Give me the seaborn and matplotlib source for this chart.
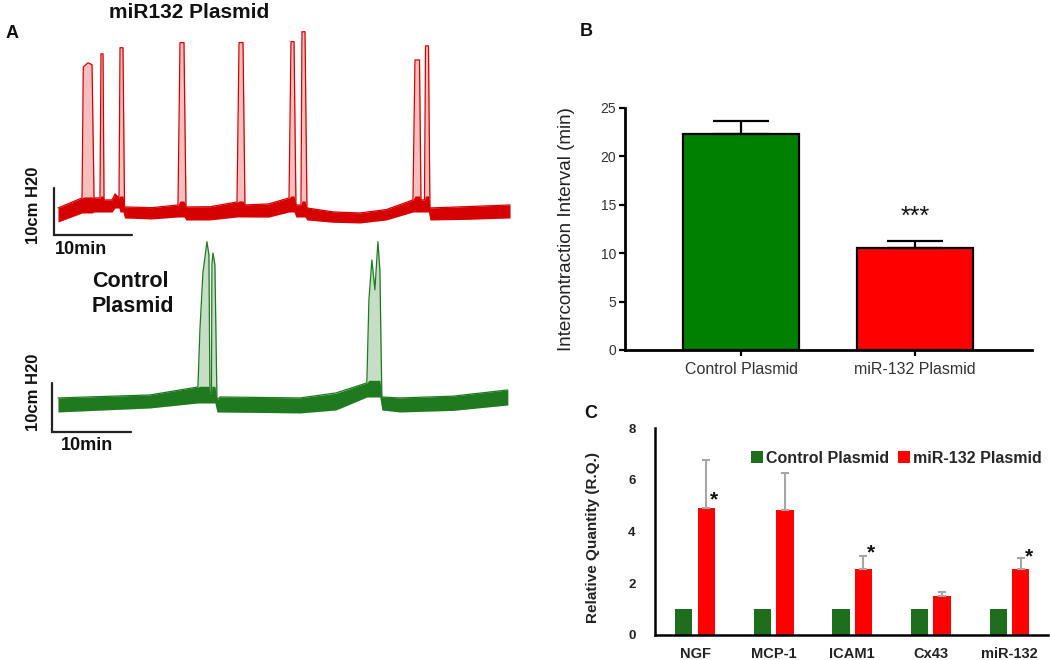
import matplotlib
matplotlib.use("Agg")
import matplotlib.pyplot as plt
import numpy as np
import pandas as pd
import seaborn as sns

sns.set_theme(style="ticks")
plt.rcParams["font.family"] = ["Liberation Sans", "DejaVu Sans"]

# ---- panel A: bladder pressure traces (time in min, pressure in cmH2O) ----
# each point: lower edge / upper edge of the recorded band
red_t = [0, 3.08, 3.24, 3.85, 4.36, 4.62, 5.0, 5.38, 5.51, 5.77, 5.90, 6.92, 7.31,
         7.82, 7.95, 8.33, 8.53, 12.0, 15.38, 15.64, 16.15, 16.41, 19.5, 22.95, 23.21,
         23.72, 23.97, 27.0, 29.62, 29.87, 30.26, 30.51, 31.15, 31.28, 31.67, 31.92,
         35.3, 38.72, 42.1, 45.51, 45.77, 46.35, 46.54, 46.99, 47.12, 47.50, 47.69,
         52.0, 57.95]
red_lo = [2.77, 4.68, 4.68, 4.68, 4.68, 4.89, 4.89, 4.89, 4.89, 4.89, 4.89, 4.89, 5.74,
          5.74, 4.89, 4.89, 3.62, 3.4, 3.83, 3.83, 3.83, 3.19, 3.2, 3.83, 3.83,
          3.83, 3.83, 3.8, 4.89, 4.89, 4.89, 3.83, 3.83, 3.83, 3.83, 3.19,
          2.7, 2.55, 3.2, 4.89, 4.89, 4.89, 4.89, 4.89, 4.89, 4.89, 3.19,
          3.3, 3.62]
red_hi = [5.74, 7.87, 35.7, 36.6, 36.2, 7.87, 7.87, 7.87, 38.5, 38.5, 7.45, 7.45, 8.72,
          7.87, 39.8, 39.8, 5.96, 5.8, 6.38, 40.9, 40.9, 5.96, 6.0, 7.02, 40.9,
          40.9, 6.38, 6.6, 7.87, 41.1, 41.1, 6.38, 6.38, 43.2, 43.2, 5.74,
          4.9, 4.68, 5.4, 7.45, 37.2, 37.2, 7.45, 7.45, 40.2, 40.2, 5.74,
          6.0, 6.38]

green_t = [0, 11.65, 17.72, 17.97, 18.35, 18.86, 19.11, 19.24, 19.43, 19.49, 19.62,
           19.87, 20.13, 20.51, 30.63, 35.2, 39.11, 39.37, 39.75, 40.13, 40.51, 40.76,
           41.01, 43.29, 50.0, 56.96]
green_lo = [4.08, 4.90, 5.92, 5.92, 5.92, 5.92, 5.92, 5.92, 5.92, 5.92, 5.92,
            5.92, 4.08, 4.08, 3.88, 4.49, 7.14, 7.14, 7.14, 7.14, 7.14, 7.14,
            4.49, 4.08, 4.4, 5.51]
green_hi = [6.94, 7.55, 9.18, 20.8, 32.4, 38.8, 36.1, 7.96, 7.96, 34.1, 36.5,
            34.1, 6.53, 7.14, 6.94, 7.96, 10.0, 26.9, 35.1, 29.0, 38.8, 33.1,
            7.14, 6.94, 7.3, 8.57]

scale_min = 10
scale_cm = 10

# ---- panel B: intercontraction interval ----
groups = ["Control Plasmid", "miR-132 Plasmid"]
interval_mean = [22.3, 10.5]
interval_sem = [1.4, 0.8]

# ---- panel C: qPCR relative quantity ----
genes = ["NGF", "MCP-1", "ICAM1", "Cx43", "miR-132"]
rq_control = [1, 1, 1, 1, 1]
rq_mir132 = [4.9, 4.85, 2.55, 1.5, 2.55]
rq_mir132_err = [1.85, 1.4, 0.5, 0.18, 0.43]
star_text = ["*", "", "*", "", "*"]
star_y = [5.0, 0, 2.95, 0, 2.8]

red = "#ff0000"
green = "#008000"
trace_red = "#d60000"
trace_green = "#1f7a1f"
c_green = "#1e6e1e"

fig = plt.figure(figsize=(10.5, 6.6), dpi=100)


def draw_trace(ax, t, lo, hi, color):
    t, lo, hi = np.asarray(t), np.asarray(lo), np.asarray(hi)
    ax.fill_between(t, lo, hi, color=color, alpha=0.25, lw=0)
    ax.fill_between(t, lo, np.minimum(hi, lo + 3.4), color=color, lw=0)
    sns.lineplot(x=t, y=hi, ax=ax, color=color, lw=0.9, estimator=None, sort=False)


ax_red = fig.add_axes([0.0381, 0.6288, 0.4571, 0.3409])
draw_trace(ax_red, red_t, red_lo, red_hi, trace_red)
ax_red.plot([-0.51, -0.51, -0.51 + scale_min], [scale_cm, 0, 0], color="#222", lw=1.6,
            solid_joinstyle="miter")
ax_red.set_xlim(-2.31, 59.23)
ax_red.set_ylim(-2.13, 45.7)
ax_red.axis("off")

ax_green = fig.add_axes([0.0381, 0.3258, 0.4571, 0.3258])
draw_trace(ax_green, green_t, green_lo, green_hi, trace_green)
ax_green.plot([-0.76, -0.76, -0.76 + scale_min], [scale_cm, 0, 0], color="#222", lw=1.6,
              solid_joinstyle="miter")
ax_green.set_xlim(-2.28, 58.5)
ax_green.set_ylim(-2.65, 41.2)
ax_green.axis("off")

bold = dict(fontweight="bold", color="#111")
fig.text(0.005, 1 - 33 / 660, "A", fontsize=13, va="center", **bold)
fig.text(189 / 1050, 1 - 13 / 660, "miR132 Plasmid", fontsize=15, ha="center", va="center", **bold)
fig.text(92 / 1050, 1 - 294 / 660, "Control\nPlasmid", fontsize=15.5, ha="left", va="center",
         linespacing=1.3, **bold)
fig.text(33 / 1050, 1 - 205 / 660, "10cm H20", fontsize=12, rotation=90, ha="center", va="center", **bold)
fig.text(33 / 1050, 1 - 392 / 660, "10cm H20", fontsize=12, rotation=90, ha="center", va="center", **bold)
fig.text(55 / 1050, 1 - 250 / 660, "10min", fontsize=13, ha="left", va="center", **bold)
fig.text(61 / 1050, 1 - 445 / 660, "10min", fontsize=13, ha="left", va="center", **bold)
fig.text(580 / 1050, 1 - 31 / 660, "B", fontsize=13, va="center", **bold)
fig.text(584 / 1050, 1 - 413 / 660, "C", fontsize=13, va="center", **bold)

# ---- panel B ----
axb = fig.add_axes([0.5952, 0.4697, 0.3876, 0.3667])
sns.barplot(x=groups, y=interval_mean, hue=groups, palette=[green, red], width=0.667,
            edgecolor="black", linewidth=1.6, errorbar=None, legend=False, saturation=1, ax=axb)
xs = [b.get_x() + b.get_width() / 2 for c in axb.containers for b in c]
axb.errorbar(xs, interval_mean, yerr=[np.zeros(len(xs)), interval_sem], fmt="none",
             ecolor="black", elinewidth=1.6, capsize=20, capthick=1.6, zorder=3)
axb.text(xs[1], 13.0, "***", fontsize=18, ha="center", va="baseline", color="#111")
axb.set_xlim(-0.667, 1.672)
axb.set_ylim(0, 25)
axb.set_yticks([0, 5, 10, 15, 20, 25])
sns.despine(ax=axb)
for s in ["left", "bottom"]:
    axb.spines[s].set_linewidth(2)
    axb.spines[s].set_color("black")
axb.tick_params(axis="both", color="black", width=1.6, length=4.5, labelsize=10,
                labelcolor="#333", pad=2)
axb.tick_params(axis="x", labelsize=11.5, pad=4)
axb.set_ylabel("Intercontraction Interval (min)", fontsize=13.5, color="#222")
axb.yaxis.set_label_coords(-0.123, 0.5)

# ---- panel C ----
df = pd.DataFrame({
    "gene": genes * 2,
    "group": ["Control Plasmid"] * len(genes) + ["miR-132 Plasmid"] * len(genes),
    "rq": rq_control + rq_mir132,
})
axc = fig.add_axes([0.6238, 0.0379, 0.3743, 0.3136])
sns.barplot(data=df, x="gene", y="rq", hue="group", palette=[c_green, red], width=0.572,
            gap=0.23, saturation=1, errorbar=None, linewidth=0, ax=axc)
red_x = [b.get_x() + b.get_width() / 2 for b in axc.containers[1]]
axc.errorbar(red_x, rq_mir132, yerr=[np.zeros(len(genes)), rq_mir132_err], fmt="none",
             ecolor="#a6a6a6", elinewidth=1.5, capsize=3, capthick=1.5, zorder=1)
for x, s, y in zip(red_x, star_text, star_y):
    if s:
        axc.text(x + 0.1, y, s, fontsize=15, ha="center", va="baseline", **bold)
axc.set_xlim(-0.509, 4.49)
axc.set_ylim(0, 8)
axc.set_yticks([0, 2, 4, 6, 8])
sns.despine(ax=axc)
for s in ["left", "bottom"]:
    axc.spines[s].set_linewidth(1.8)
    axc.spines[s].set_color("black")
axc.tick_params(axis="y", length=0, pad=14, labelsize=9.5, labelcolor="#222")
axc.tick_params(axis="x", length=0, pad=9, labelsize=10.5, labelcolor="#222")
for lab in axc.get_xticklabels() + axc.get_yticklabels():
    lab.set_fontweight("bold")
axc.set_xlabel("")
axc.set_ylabel("Relative Quantity (R.Q.)", fontsize=11, fontweight="bold", color="#222")
axc.yaxis.set_label_coords(-0.14, 0.473)
handles, labels = axc.get_legend_handles_labels()
axc.legend(handles, labels, loc="center right", bbox_to_anchor=(1.0, 0.855), ncol=2,
           frameon=False, borderaxespad=0, handlelength=0.7, handleheight=0.7,
           handletextpad=0.2, columnspacing=0.6, prop={"weight": "bold", "size": 11.5})

fig.savefig("out.png", dpi=100)
